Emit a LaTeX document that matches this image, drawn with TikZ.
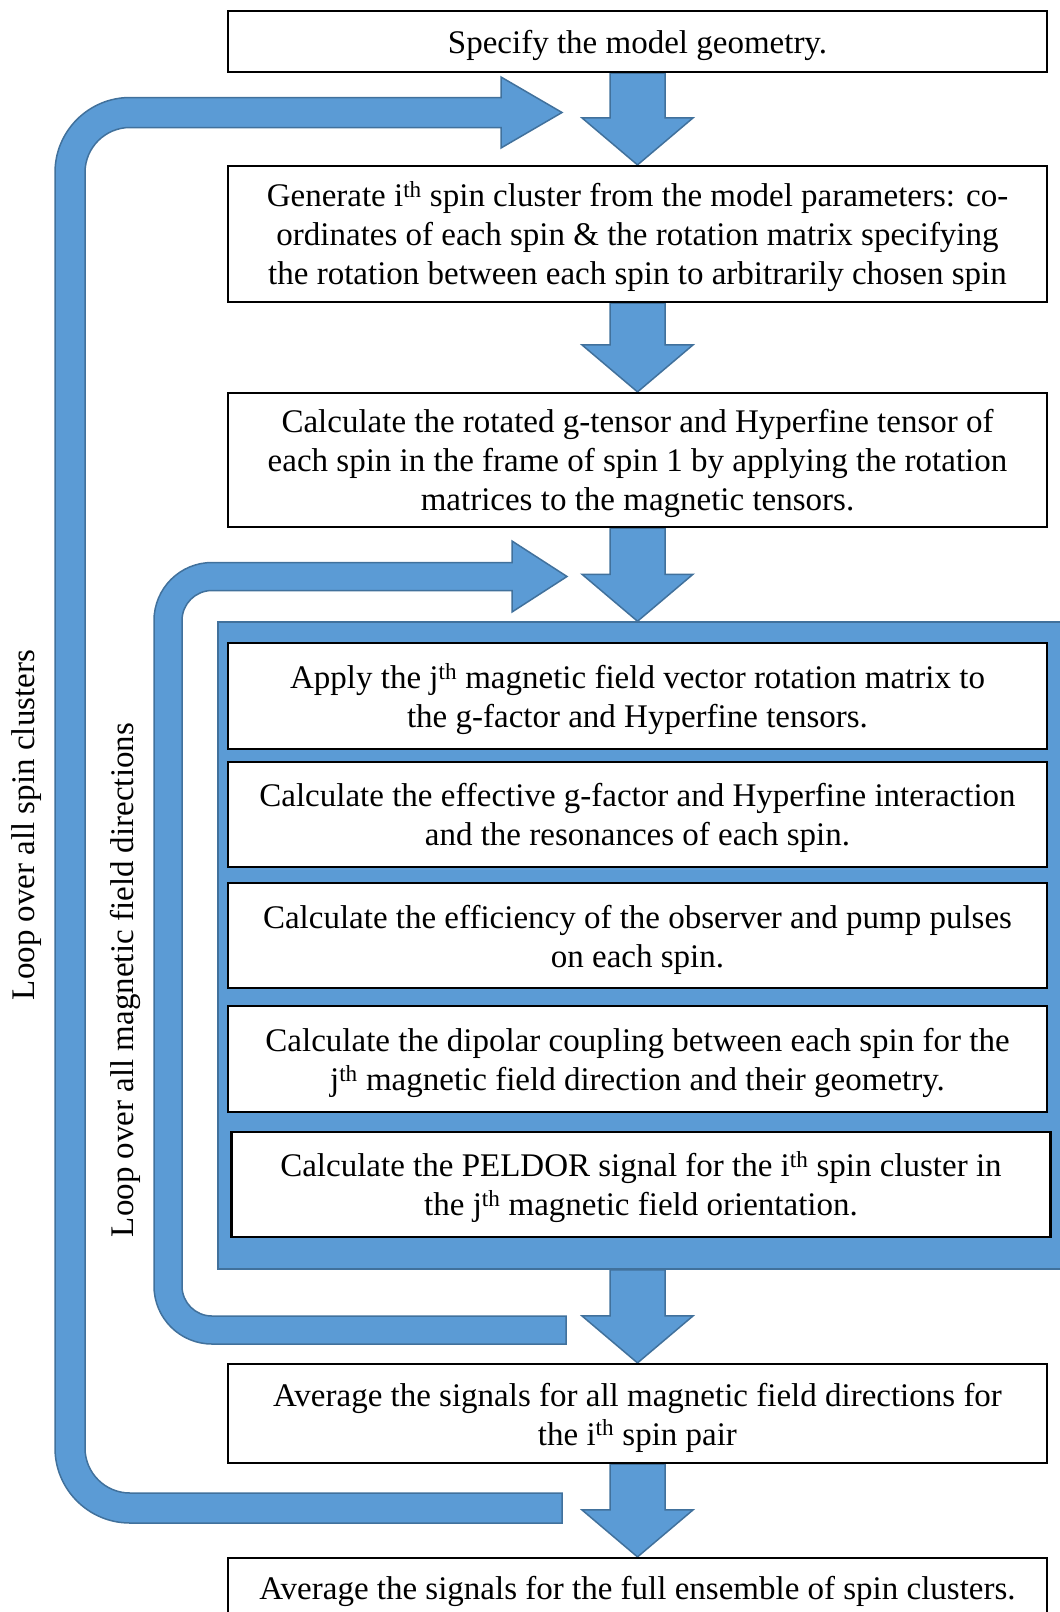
\documentclass[tikz,border=0pt]{standalone}
\usepackage{fontspec}
\setmainfont{Liberation Serif}
\usetikzlibrary{calc,backgrounds}

\definecolor{loopblue}{HTML}{5B9BD5}
\definecolor{loopedge}{HTML}{41719C}

\newcommand{\tstrut}{\rule{0pt}{31pt}}

\newcommand{\blockdown}[2]{%
  \path[blockarrow] let \p1=(#1), \p2=(#2) in
    (\x1-27.5pt,\y1) -- (\x1+27.5pt,\y1) -- (\x1+27.5pt,\y2+47pt) -- (\x1+55.5pt,\y2+47pt)
    -- (\x1,\y2) -- (\x1-55.5pt,\y2+47pt) -- (\x1-27.5pt,\y2+47pt) -- cycle;}

\newcommand{\loopback}[6]{%
  \path[blockarrow] let \p1=(#1), \p2=(#2) in
    (\x1,\y1+#4pt/2) -- (#3pt+#4pt+#5pt,\y1+#4pt/2)
    arc[start angle=270,end angle=180,radius=#5pt]
    -- (#3pt+#4pt,\y2-#4pt/2-#5pt)
    arc[start angle=180,end angle=90,radius=#5pt]
    -- (\x2-#6pt,\y2-#4pt/2) -- (\x2-#6pt,\y2-35.5pt) -- (\x2,\y2)
    -- (\x2-#6pt,\y2+35.5pt) -- (\x2-#6pt,\y2+#4pt/2)
    -- (#3pt+#4pt+#5pt,\y2+#4pt/2)
    arc[start angle=90,end angle=180,radius=#4pt+#5pt]
    -- (#3pt,\y1-#4pt/2+#4pt+#5pt)
    arc[start angle=180,end angle=270,radius=#4pt+#5pt]
    -- (\x1,\y1-#4pt/2) -- cycle;}

\begin{document}
\begin{tikzpicture}[x=1pt,y=1pt,
    stepbox/.style={draw=black, line width=2.2pt, fill=white, align=center,
      minimum width=819pt, inner sep=0pt, font=\fontsize{33}{39}\selectfont},
    blockarrow/.style={fill=loopblue, draw=loopedge, line width=1.5pt},
    container/.style={fill=loopblue, draw=loopedge, line width=1.5pt},
    looplabel/.style={rotate=90, inner sep=0pt, font=\fontsize{33}{39}\selectfont}]

    \useasboundingbox (0,0) rectangle (1060,-1612);
    \clip (0,0) rectangle (1060,-1612);

    \node[stepbox, minimum height=61pt] (geom) at (637.5,-41.5) {\tstrut Specify the model geometry.};
    \node[stepbox, minimum height=136pt] (gen) at (637.5,-234) {\tstrut Generate i\textsuperscript{th} spin cluster from the model parameters: co-\\ordinates of each spin \& the rotation matrix specifying\\the rotation between each spin to arbitrarily chosen spin};
    \node[stepbox, minimum height=134pt] (rot) at (637.5,-460) {\tstrut Calculate the rotated g-tensor and Hyperfine tensor of\\each spin in the frame of spin 1 by applying the rotation\\matrices to the magnetic tensors.};

    \node[container, minimum width=852pt, minimum height=647pt] (field) at (644,-945.5) {};
    \node[stepbox, minimum height=106pt] (apply) at (637.5,-696) {\tstrut Apply the j\textsuperscript{th} magnetic field vector rotation matrix to\\the g-factor and Hyperfine tensors.};
    \node[stepbox, minimum height=105pt] (effective) at (637.5,-814.5) {\tstrut Calculate the effective g-factor and Hyperfine interaction\\and the resonances of each spin.};
    \node[stepbox, minimum height=105pt] (effic) at (637.5,-935.5) {\tstrut Calculate the efficiency of the observer and pump pulses\\on each spin.};
    \node[stepbox, minimum height=106pt] (dipolar) at (637.5,-1059) {\tstrut Calculate the dipolar coupling between each spin for the\\j\textsuperscript{th} magnetic field direction and their geometry.};
    \node[stepbox, minimum height=105pt] (peldor) at (641,-1184.5) {\tstrut Calculate the PELDOR signal for the i\textsuperscript{th} spin cluster in\\the j\textsuperscript{th} magnetic field orientation.};

    \node[stepbox, minimum height=99pt] (avgfield) at (637.5,-1413.5) {\tstrut Average the signals for all magnetic field directions for\\the i\textsuperscript{th} spin pair};
    \node[stepbox, minimum height=60pt] (avgall) at (637.5,-1588) {\tstrut Average the signals for the full ensemble of spin clusters.};

    \node[looplabel] (spinlabel) at (27,-825) {Loop over all spin clusters};
    \node[looplabel] (fieldlabel) at (125,-980) {Loop over all magnetic field directions};

    \coordinate (spinin) at (562,-1508);
    \coordinate (spinout) at (562,-112.5);
    \coordinate (fieldin) at (566,-1330);
    \coordinate (fieldout) at (567,-576.5);

    \begin{scope}[on background layer]
        \loopback{spinin}{spinout}{55}{30}{45}{61}
        \loopback{fieldin}{fieldout}{154}{28}{30}{55}
        \blockdown{geom.south}{gen.north}
        \blockdown{gen.south}{rot.north}
        \blockdown{rot.south}{rot.south |- field.north}
        \blockdown{field.south -| avgfield.north}{avgfield.north}
        \blockdown{avgfield.south}{avgall.north}
    \end{scope}
\end{tikzpicture}
\end{document}
